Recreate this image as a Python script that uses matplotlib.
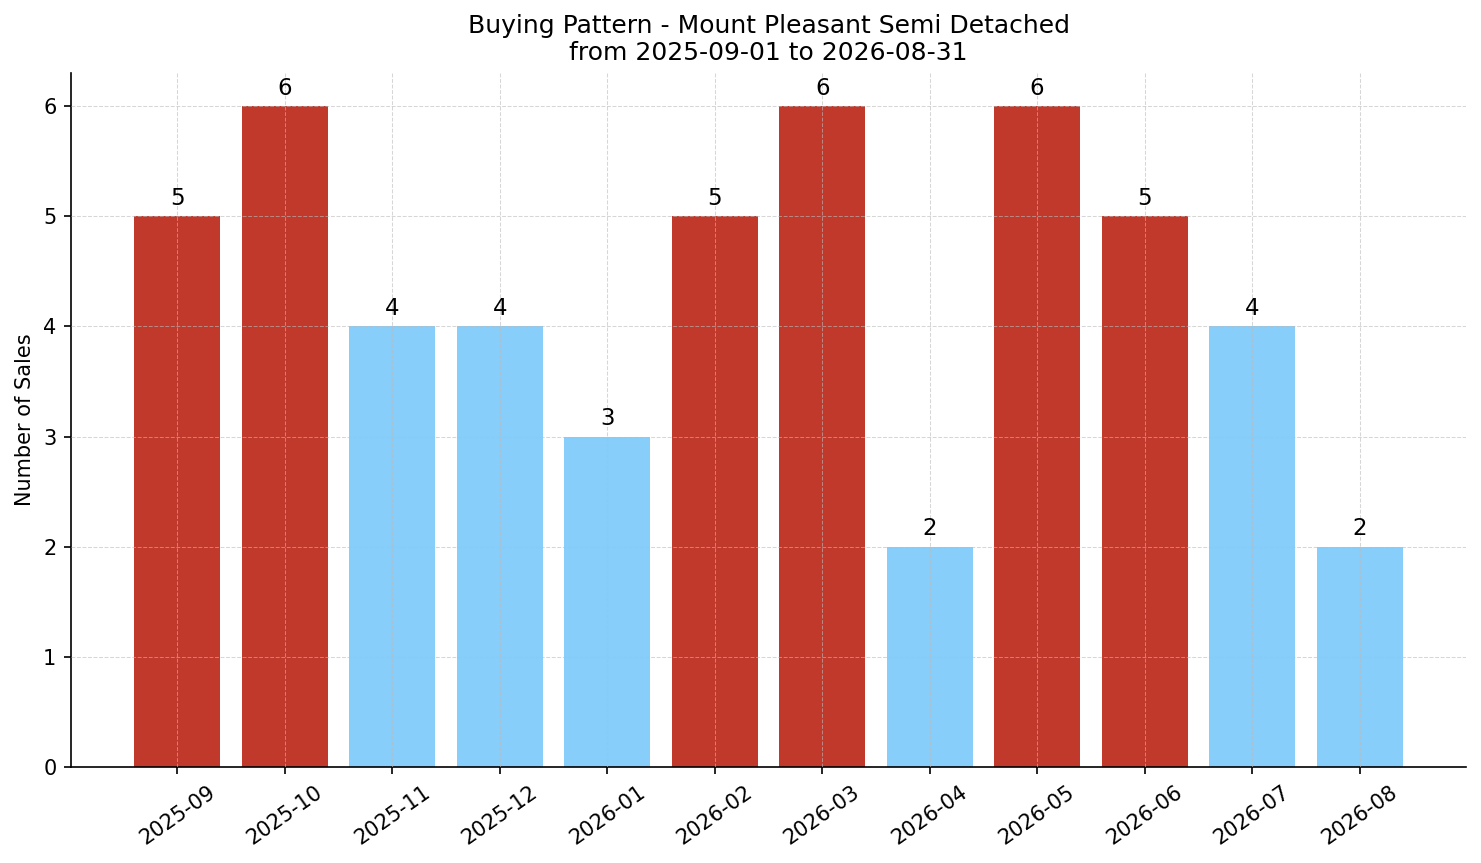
import matplotlib
matplotlib.use("Agg")
import matplotlib.pyplot as plt

months = ["2025-09", "2025-10", "2025-11", "2025-12", "2026-01", "2026-02",
          "2026-03", "2026-04", "2026-05", "2026-06", "2026-07", "2026-08"]
sales = [5, 6, 4, 4, 3, 5, 6, 2, 6, 5, 4, 2]

RED = "#c0392b"
BLUE = "#87cefa"
colors = [RED if v >= 5 else BLUE for v in sales]

fig = plt.figure(figsize=(1481 / 150, 863 / 150), dpi=150)
ax = fig.add_axes([71 / 1481, 1 - 767 / 863, (1466 - 71) / 1481, (767 - 73) / 863])

x = list(range(len(months)))
bars = ax.bar(x, sales, color=colors, width=0.8, zorder=1)
ax.bar_label(bars, labels=[str(v) for v in sales], padding=3, fontsize=11)

ax.set_xticks(x)
ax.set_xticklabels(months, rotation=35)
ax.set_ylabel("Number of Sales")
ax.set_title("Buying Pattern - Mount Pleasant Semi Detached\nfrom 2025-09-01 to 2026-08-31", fontsize=12)

ax.grid(True, linestyle="--", linewidth=0.5, color="#bbbbbb", alpha=0.6, zorder=2)
ax.set_axisbelow(False)
ax.spines["top"].set_visible(False)
ax.spines["right"].set_visible(False)

fig.savefig("out.png", dpi=150)
